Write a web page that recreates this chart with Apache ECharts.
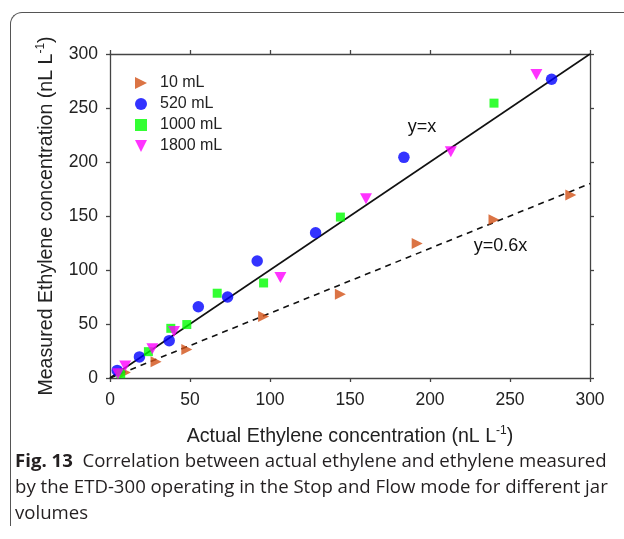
<!DOCTYPE html>
<html>
<head>
<meta charset="utf-8">
<script src="https://cdn.jsdelivr.net/npm/echarts@6/dist/echarts.min.js"></script>
<style>
  html, body { margin: 0; padding: 0; background: #fff; }
  #wrap { position: relative; width: 624px; height: 539px; overflow: hidden; }
  #frame { position: absolute; left: 10px; top: 12px; width: 640px; height: 513px;
           border-top: 1.3px solid #555; border-left: 1.3px solid #555; border-top-left-radius: 12px; }
  #chart { position: absolute; left: 0; top: 0; width: 624px; height: 539px; }
  #caption { position: absolute; left: 15px; top: 447px; width: 610px; font-family: "Open Sans", sans-serif;
             font-size: 18.6px; line-height: 26px; color: #231f20; white-space: nowrap; }
</style>
</head>
<body>
<div id="wrap">
  <div id="frame"></div>
  <div id="chart"></div>
  <div id="caption"><b>Fig. 13</b>&nbsp; Correlation between actual ethylene and ethylene measured<br>by the ETD-300 operating in the Stop and Flow mode for different jar<br>volumes</div>
</div>
<script>
// ---- data ----
const seriesNames = ['10 mL', '520 mL', '1000 mL', '1800 mL'];
const jar10 = [[9.6,5],[28.8,15],[48,26.5],[96,57],[144,77.5],[192,124.5],[240,146.5],[288,169.5]];
const jar520 = [[4.5,7],[18.4,19.5],[37,34.6],[55.2,66],[73.5,75],[92,108.3],[128.5,134.5],[183.7,204.3],[276,276.6]];
const jar1000 = [[6.7,4],[24,24.4],[38,46],[48,49.5],[67,78.5],[96,88],[144,149],[240,254.5]];
const jar1800 = [[5,4],[9.5,11],[26.5,27],[40,43],[106.5,93],[160,166],[213,209.5],[266.5,281]];
const lineIdentity = [[0,0],[300,300]];
const lineSlope06 = [[0,0],[300,180]];
const axisTicks = [0, 50, 100, 150, 200, 250, 300];
const labelIdentity = { text: 'y=x', at: [195, 232] };
const labelSlope = { text: 'y=0.6x', at: [244, 122] };

const colors = ['#D25116', '#0000FF', '#00FF00', '#FF00FF'];
const symRight = 'path://M0,0L10,5L0,10Z';
const symDown = 'path://M0,0L10,0L5,10Z';
const FONT = 'Liberation Sans, Arial, sans-serif';

const chart = echarts.init(document.getElementById('chart'));
const axisFont = { fontFamily: FONT, fontSize: 17.5, color: '#222' };
const axLine = { lineStyle: { color: '#444', width: 1.3 } };
const nameRich = {
  a: { fontFamily: FONT, fontSize: 19.6, color: '#222' },
  s: { fontFamily: FONT, fontSize: 12, color: '#222', verticalAlign: 'top', padding: [0,0,11,0] }
};

function baseAxis(extra) {
  return Object.assign({
    type: 'value', min: 0, max: 300, interval: 50,
    axisLine: Object.assign({ show: true, onZero: false }, axLine),
    axisTick: { show: true, inside: false, length: 4, lineStyle: { color: '#444', width: 1.3 } },
    splitLine: { show: false }
  }, extra);
}

chart.setOption({
  animation: false,
  grid: { left: 110, right: 34, top: 54, bottom: 161 },
  legend: {
    orient: 'vertical', left: 130, top: 70, itemGap: 5, itemWidth: 12, itemHeight: 12,
    textStyle: { fontFamily: FONT, fontSize: 16, color: '#222', padding: [0,0,0,8] },
    data: [
      { name: seriesNames[0], icon: symRight },
      { name: seriesNames[1], icon: 'circle' },
      { name: seriesNames[2], icon: 'rect' },
      { name: seriesNames[3], icon: symDown }
    ]
  },
  xAxis: [
    baseAxis({
      position: 'bottom',
      axisLabel: Object.assign({ margin: 13, formatter: v => axisTicks.includes(v) ? String(v) : '' }, axisFont),
      name: '{a|Actual Ethylene concentration (nL L}{s|-1}{a|)}',
      nameLocation: 'middle', nameGap: 47,
      nameTextStyle: { rich: nameRich }
    }),
    baseAxis({ position: 'top', axisLabel: { show: false } })
  ],
  yAxis: [
    baseAxis({
      position: 'left',
      axisLabel: Object.assign({ margin: 12 }, axisFont),
      name: '{a|Measured Ethylene concentration (nL L}{s|-1}{a|)}',
      nameLocation: 'middle', nameGap: 52,
      nameTextStyle: { rich: nameRich }
    }),
    baseAxis({ position: 'right', axisLabel: { show: false } })
  ],
  series: [
    { type: 'line', data: lineIdentity, symbol: 'none', silent: true, z: 1,
      lineStyle: { color: '#111', width: 1.6, type: 'solid' },
      markPoint: { symbol: 'rect', symbolSize: 1, itemStyle: { color: 'transparent' },
        label: { show: true, formatter: labelIdentity.text, fontFamily: FONT, fontSize: 18, color: '#111' },
        data: [{ coord: labelIdentity.at }] } },
    { type: 'line', data: lineSlope06, symbol: 'none', silent: true, z: 1,
      lineStyle: { color: '#111', width: 1.6, type: [6, 5] },
      markPoint: { symbol: 'rect', symbolSize: 1, itemStyle: { color: 'transparent' },
        label: { show: true, formatter: labelSlope.text, fontFamily: FONT, fontSize: 18, color: '#111' },
        data: [{ coord: labelSlope.at }] } },
    { name: seriesNames[0], type: 'scatter', data: jar10, symbol: symRight, symbolSize: [11, 11], itemStyle: { color: colors[0] }, z: 3 },
    { name: seriesNames[1], type: 'scatter', data: jar520, symbol: 'circle', symbolSize: 11.5, itemStyle: { color: colors[1] }, z: 3 },
    { name: seriesNames[2], type: 'scatter', data: jar1000, symbol: 'rect', symbolSize: 9, itemStyle: { color: colors[2] }, z: 3 },
    { name: seriesNames[3], type: 'scatter', data: jar1800, symbol: symDown, symbolSize: [12, 11], itemStyle: { color: colors[3] }, z: 3 }
  ]
});
</script>
</body>
</html>
